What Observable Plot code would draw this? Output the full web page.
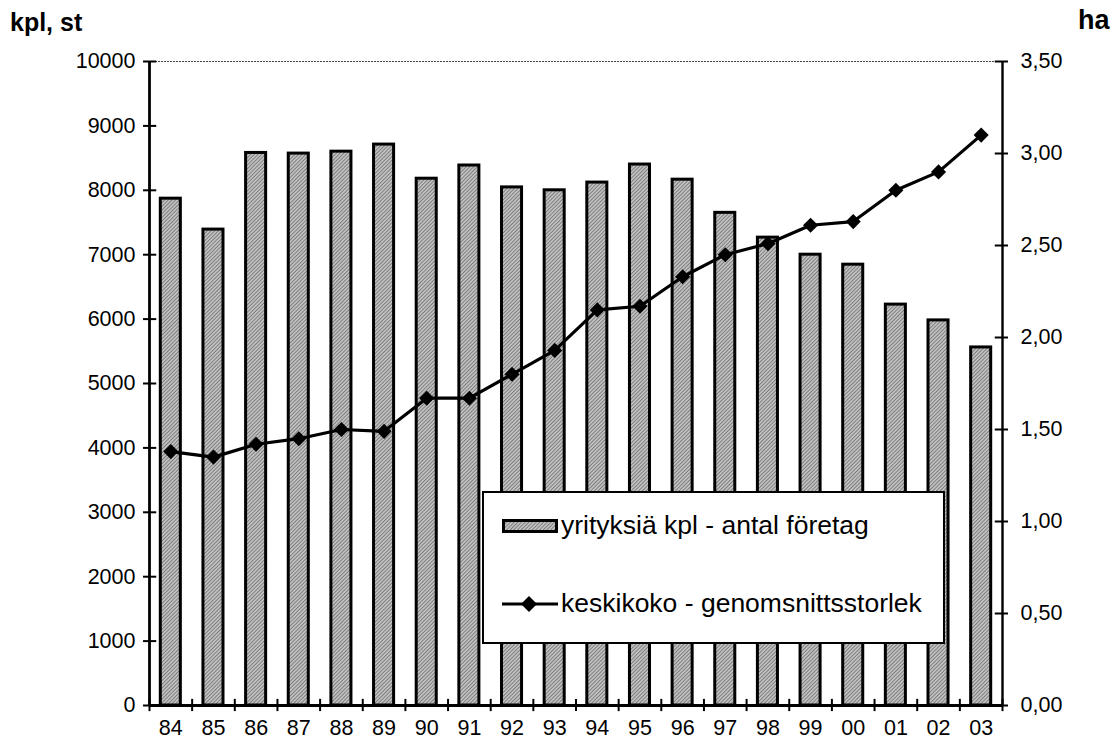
<!DOCTYPE html>
<html>
<head>
<meta charset="utf-8">
<script src="https://cdn.jsdelivr.net/npm/d3@7"></script>
<script src="https://cdn.jsdelivr.net/npm/@observablehq/plot@0.6"></script>
<style>
  body { margin: 0; background: #fff; font-family: "Liberation Sans", Arial, sans-serif; }
  #wrap { position: relative; width: 1111px; height: 751px; overflow: hidden; }
  .title { position: absolute; font-weight: bold; color: #000; line-height: 1; }
  #legend { position: absolute; left: 482px; top: 491px; width: 459px; height: 149px;
            border: 2px solid #000; background: #fff; box-sizing: content-box; }
  .lrow { position: absolute; left: 18px; display: flex; align-items: center; font-size: 26.5px; color: #000; white-space: nowrap; }
</style>
</head>
<body>
<div id="wrap">
  <div class="title" style="left:10px; top:10px; font-size:25px;">kpl, st</div>
  <div class="title" style="left:1078px; top:7px; font-size:27px;">ha</div>
  <div id="chart"></div>
  <div id="legend">
    <div class="lrow" style="top:17px;">
      <svg width="56" height="14" style="margin-right:3px">
        <defs>
          <pattern id="hatchL" width="2.6" height="2.6" patternUnits="userSpaceOnUse" patternTransform="rotate(45)">
            <rect width="2.6" height="2.6" fill="#c0c0c0"></rect>
            <line x1="0" y1="0" x2="0" y2="2.6" stroke="#505050" stroke-width="1.1"></line>
          </pattern>
        </defs>
        <rect x="1.5" y="1.5" width="53" height="11" fill="url(#hatchL)" stroke="#000" stroke-width="3"></rect>
      </svg>
      <span>yrityksiä kpl - antal företag</span>
    </div>
    <div class="lrow" style="top:95px;">
      <svg width="56" height="18" style="margin-right:3px">
        <line x1="0" y1="9" x2="56" y2="9" stroke="#000" stroke-width="3"></line>
        <path d="M27,1 L35,9 L27,17 L19,9 Z" fill="#000"></path>
      </svg>
      <span>keskikoko - genomsnittsstorlek</span>
    </div>
  </div>
</div>
<script>
const years = ["84","85","86","87","88","89","90","91","92","93","94","95","96","97","98","99","00","01","02","03"];
const companies = [7870, 7390, 8580, 8570, 8600, 8710, 8180, 8385, 8045, 8000, 8120, 8400, 8165, 7650, 7265, 7000, 6845, 6225, 5980, 5560];
const avgSize = [1.38, 1.35, 1.42, 1.45, 1.50, 1.49, 1.67, 1.67, 1.80, 1.93, 2.15, 2.17, 2.33, 2.45, 2.51, 2.61, 2.63, 2.80, 2.90, 3.10];
const leftTicks = [0, 1000, 2000, 3000, 4000, 5000, 6000, 7000, 8000, 9000, 10000];
const rightTicks = [0, 0.5, 1, 1.5, 2, 2.5, 3, 3.5];

const leftMax = 10000, rightMax = 3.5;
const toLeft = v => v * leftMax / rightMax;
const n = years.length;
const halfBar = 0.235;

const data = years.map((y, i) => ({i, year: y, count: companies[i], size: avgSize[i]}));
const bounds = d3.range(n + 1).map(k => k - 0.5);
const fmtRight = d3.format(".2f");

const chart = Plot.plot({
  width: 1111,
  height: 751,
  marginLeft: 149,
  marginRight: 109,
  marginTop: 61,
  marginBottom: 46,
  x: {type: "linear", domain: [-0.5, n - 0.5], axis: null},
  y: {type: "linear", domain: [0, leftMax], axis: null},
  style: {fontFamily: "'Liberation Sans', Arial, sans-serif", fontSize: "21px", background: "transparent", color: "#000"},
  marks: [
    Plot.ruleY([leftMax], {stroke: "#444", strokeWidth: 1.2, strokeDasharray: "2,1"}),
    Plot.rectY(data, {x1: d => d.i - halfBar, x2: d => d.i + halfBar, y1: 0, y2: "count",
                      fill: "url(#hatch)", stroke: "#000", strokeWidth: 3}),
    Plot.ruleX([-0.5], {stroke: "#000", strokeWidth: 2.8}),
    Plot.ruleX([n - 0.5], {stroke: "#000", strokeWidth: 2.4}),
    Plot.ruleY([0], {stroke: "#000", strokeWidth: 2.8}),
    Plot.ruleY(leftTicks, {y: d => d, x1: -0.5 - 0.14, x2: -0.5 + 0.17, stroke: "#000", strokeWidth: 2}),
    Plot.ruleY(rightTicks, {y: d => toLeft(d), x1: n - 0.5 - 0.17, x2: n - 0.5 + 0.14, stroke: "#000", strokeWidth: 2}),
    Plot.ruleX(bounds, {x: d => d, y1: -95, y2: 95, stroke: "#000", strokeWidth: 2}),
    Plot.text(leftTicks, {x: -0.5, y: d => d, text: d => String(d), textAnchor: "end", dx: -14, fontSize: 21.5, fill: "#000"}),
    Plot.text(rightTicks, {x: n - 0.5, y: d => toLeft(d), text: d => fmtRight(d).replace(".", ","), textAnchor: "start", dx: 18, fontSize: 21.5, fill: "#000"}),
    Plot.text(data, {x: "i", y: 0, text: "year", dy: 23, fontSize: 21.5, fill: "#000"}),
    Plot.line(data, {x: "i", y: d => toLeft(d.size), stroke: "#000", strokeWidth: 3.2}),
    Plot.dot(data, {x: "i", y: d => toLeft(d.size), symbol: "diamond2", r: 6.8, fill: "#000", stroke: "none"})
  ]
});

const ns = "http://www.w3.org/2000/svg";
const defs = document.createElementNS(ns, "defs");
defs.innerHTML = '<pattern id="hatch" width="2.6" height="2.6" patternUnits="userSpaceOnUse" patternTransform="rotate(45)">' +
  '<rect width="2.6" height="2.6" fill="#c0c0c0"></rect>' +
  '<line x1="0" y1="0" x2="0" y2="2.6" stroke="#505050" stroke-width="1.1"></line></pattern>';
chart.insertBefore(defs, chart.firstChild);
document.getElementById("chart").appendChild(chart);
</script>
</body>
</html>
